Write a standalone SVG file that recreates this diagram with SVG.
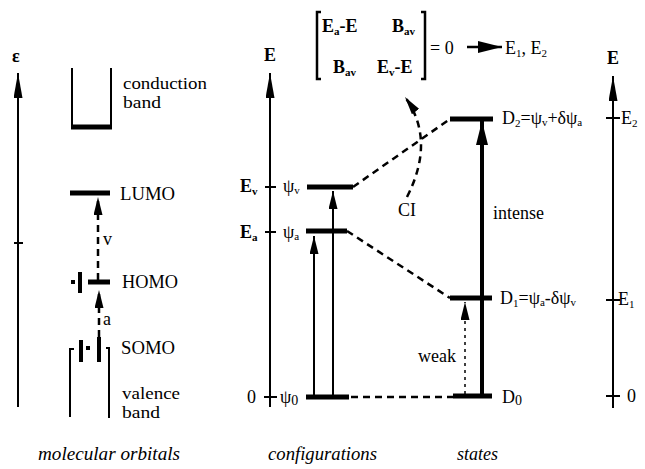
<svg xmlns="http://www.w3.org/2000/svg" width="645" height="469" viewBox="0 0 645 469">
<style>
text{font-family:"Liberation Serif","Times New Roman",serif;fill:#000;font-size:18px}
.b{font-weight:bold}
.it{font-style:italic}
.s{font-size:11px}
.m{font-size:16px}
.ax{stroke:#000;stroke-width:2;fill:none}
.lvl{stroke:#000;stroke-width:5;fill:none}
.dash{stroke:#000;stroke-width:2.5;fill:none;stroke-dasharray:7 5}
.thin{stroke:#000;stroke-width:2;fill:none}
</style>
<defs>
<marker id="ah" viewBox="0 0 25 9" refX="25" refY="4.5" markerWidth="25" markerHeight="9" markerUnits="userSpaceOnUse" orient="auto"><path d="M0,0 L25,4.5 L0,9 z" fill="#000"/></marker>
<marker id="ahs" viewBox="0 0 18 9" refX="18" refY="4.5" markerWidth="18" markerHeight="9" markerUnits="userSpaceOnUse" orient="auto"><path d="M0,0 L18,4.5 L0,9 z" fill="#000"/></marker>
<marker id="ahb" viewBox="0 0 24 12" refX="24" refY="6" markerWidth="24" markerHeight="12" markerUnits="userSpaceOnUse" orient="auto"><path d="M0,0 L24,6 L0,12 z" fill="#000"/></marker>
</defs>

<!-- Left panel: molecular orbitals -->
<g id="eps-axis">
<line class="ax" x1="18" y1="407" x2="18" y2="73" marker-end="url(#ah)"/>
<line class="ax" x1="14" y1="243" x2="23" y2="243"/>
<text class="b" x="12" y="62" font-size="26">ε</text>
</g>
<g id="conduction-band">
<path class="thin" d="M72,68 V127 M111,68 V127"/>
<line class="lvl" x1="71" y1="127" x2="112" y2="127"/>
<text class="m" x="123" y="89" textLength="84" lengthAdjust="spacingAndGlyphs">conduction</text>
<text class="m" x="123" y="108" textLength="38" lengthAdjust="spacingAndGlyphs">band</text>
</g>
<g id="lumo">
<line class="lvl" x1="70" y1="193" x2="110" y2="193"/>
<text x="120" y="200" textLength="55" lengthAdjust="spacingAndGlyphs">LUMO</text>
</g>
<g id="homo">
<line class="lvl" x1="88" y1="282" x2="110" y2="282"/>
<line stroke="#000" stroke-width="4" x1="80" y1="272" x2="80" y2="293"/>
<rect x="71" y="280" width="4" height="4" fill="#000"/>
<text x="122" y="288" textLength="56" lengthAdjust="spacingAndGlyphs">HOMO</text>
</g>
<g id="somo">
<line stroke="#000" stroke-width="4" x1="81" y1="340" x2="81" y2="362"/>
<line stroke="#000" stroke-width="4" x1="99" y1="337" x2="99" y2="362"/>
<rect x="86" y="346" width="4" height="4" fill="#000"/>
<text x="121" y="354" textLength="54" lengthAdjust="spacingAndGlyphs">SOMO</text>
</g>
<g id="valence-band">
<path class="thin" d="M74,349 H70 V417 M106,348 H109 V418"/>
<text class="m" x="122" y="399" textLength="58" lengthAdjust="spacingAndGlyphs">valence</text>
<text class="m" x="122" y="418" textLength="38" lengthAdjust="spacingAndGlyphs">band</text>
</g>
<text class="it" x="38" y="460" textLength="142" lengthAdjust="spacingAndGlyphs">molecular orbitals</text>

<!-- Middle: configurations -->
<g id="e-axis-config">
<line class="ax" x1="270" y1="407" x2="270" y2="73" marker-end="url(#ah)"/>
<line class="ax" x1="265" y1="187" x2="276" y2="187"/>
<line class="ax" x1="265" y1="232" x2="276" y2="232"/>
<line class="ax" x1="264" y1="397" x2="277" y2="397"/>
<text class="b" x="264" y="61">E</text>
<text class="b" x="240" y="192">E<tspan class="s" dy="3">v</tspan></text>
<text class="b" x="240" y="238">E<tspan class="s" dy="3">a</tspan></text>
<text x="247" y="403">0</text>
</g>
<g id="psi-v">
<line class="lvl" x1="307" y1="187" x2="353" y2="187"/>
<text x="283" y="192">ψ<tspan class="s" dy="2">v</tspan></text>
</g>
<g id="psi-a">
<line class="lvl" x1="306" y1="231" x2="347" y2="231"/>
<text x="283" y="238">ψ<tspan class="s" dy="2">a</tspan></text>
</g>
<g id="psi-0">
<line class="lvl" x1="306" y1="397" x2="349" y2="397"/>
<text x="280" y="403">ψ<tspan font-size="14" dy="2">0</tspan></text>
</g>
<text class="it" x="268" y="460" textLength="109" lengthAdjust="spacingAndGlyphs">configurations</text>

<!-- Matrix -->
<g id="matrix">
<path stroke="#000" stroke-width="2.5" fill="none" d="M321,12 H317 V79 H321 M421,12 H425 V79 H421"/>
<text class="b" x="322" y="32" font-size="17">E<tspan class="s" dy="3">a</tspan><tspan dy="-3">-E</tspan></text>
<text class="b" x="392" y="32" font-size="17">B<tspan class="s" dy="3">av</tspan></text>
<text class="b" x="333" y="73" font-size="17">B<tspan class="s" dy="3">av</tspan></text>
<text class="b" x="377" y="73" font-size="17">E<tspan class="s" dy="3">v</tspan><tspan dy="-3">-E</tspan></text>
<text x="430" y="54">= 0</text>
<text x="505" y="54">E<tspan class="s" dy="3">1</tspan><tspan dy="-3">, E</tspan><tspan class="s" dy="3">2</tspan></text>
</g>

<!-- States -->
<g id="D2">
<line class="lvl" x1="450" y1="119" x2="493" y2="119"/>
<text x="502" y="124">D<tspan class="s" dy="3">2</tspan><tspan dy="-3">=ψ</tspan><tspan class="s" dy="2">v</tspan><tspan dy="-2">+δψ</tspan><tspan class="s" dy="2">a</tspan></text>
</g>
<g id="D1">
<line class="lvl" x1="450" y1="298" x2="492" y2="298"/>
<text x="500" y="304">D<tspan class="s" dy="3">1</tspan><tspan dy="-3">=ψ</tspan><tspan class="s" dy="2">a</tspan><tspan dy="-2">-δψ</tspan><tspan class="s" dy="2">v</tspan></text>
</g>
<g id="D0">
<line class="lvl" x1="453" y1="396" x2="492" y2="396"/>
<text x="502" y="403">D<tspan font-size="14" dy="2">0</tspan></text>
</g>
<text x="493" y="219">intense</text>
<text x="418" y="362">weak</text>
<text x="398" y="216">CI</text>
<text x="103" y="245" font-size="16">v</text>
<text x="103" y="325" font-size="16">a</text>
<text class="it" x="457" y="460" textLength="41" lengthAdjust="spacingAndGlyphs">states</text>

<!-- Right axis -->
<g id="e-axis-states">
<line class="ax" x1="613" y1="408" x2="613" y2="76" marker-end="url(#ah)"/>
<line class="ax" x1="606" y1="118" x2="620" y2="118"/>
<line class="ax" x1="606" y1="300" x2="620" y2="300"/>
<line class="ax" x1="606" y1="396" x2="620" y2="396"/>
<text class="b" x="607" y="64">E</text>
<text x="621" y="124">E<tspan class="s" dy="3">2</tspan></text>
<text x="618" y="305">E<tspan class="s" dy="3">1</tspan></text>
<text x="627" y="402">0</text>
</g>

<!-- Connectors -->
<g id="connectors">
<line class="dash" x1="98" y1="280" x2="98" y2="197" stroke-width="2" marker-end="url(#ahs)"/>
<line class="dash" x1="99" y1="337" x2="99" y2="290" stroke-width="2" marker-end="url(#ahs)"/>
<line stroke="#000" stroke-width="2" x1="314" y1="397" x2="314" y2="236" marker-end="url(#ahs)"/>
<line stroke="#000" stroke-width="2" x1="333" y1="397" x2="333" y2="191" marker-end="url(#ahs)"/>
<line class="dash" x1="353" y1="187" x2="450" y2="119"/>
<line class="dash" x1="347" y1="231" x2="450" y2="298"/>
<line class="dash" x1="351" y1="397" x2="453" y2="397"/>
<path class="dash" d="M407,197 Q436,140 405,97" marker-end="url(#ahs)"/>
<line stroke="#000" stroke-width="2.5" x1="467" y1="47" x2="502" y2="47" marker-end="url(#ahb)"/>
<line stroke="#000" stroke-width="4" x1="482" y1="394" x2="482" y2="121" marker-end="url(#ahb)"/>
<line stroke="#000" stroke-width="1.5" stroke-dasharray="3 4" x1="465" y1="394" x2="465" y2="302" marker-end="url(#ahs)"/>
</g>
</svg>
